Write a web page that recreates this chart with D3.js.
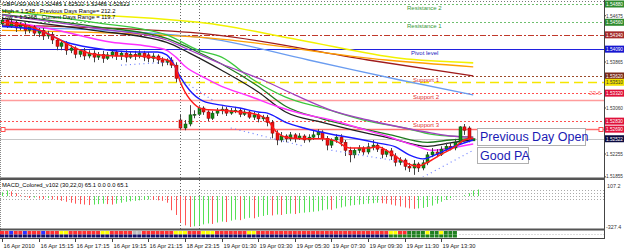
<!DOCTYPE html>
<html><head><meta charset="utf-8">
<script src="https://cdn.jsdelivr.net/npm/d3@7"></script>
<style>
body{margin:0;background:#fff;overflow:hidden}
svg{display:block}
text{font-family:"Liberation Sans",Arial,sans-serif}
</style></head><body>
<svg id="c" width="625" height="251"></svg>
<script>
// ---------------- DATA ----------------
const timeLabels=["16 Apr 2010","16 Apr 15:15","16 Apr 17:15","16 Apr 19:15","16 Apr 21:15","18 Apr 23:15","19 Apr 01:30","19 Apr 03:30","19 Apr 05:30","19 Apr 07:30","19 Apr 09:30","19 Apr 11:30","19 Apr 13:30"];
const labelBars=[0,8,16,24,32,40,48,56,64,72,80,88,96];
const separatorBars=[39,43];

const opens=[1.5453,1.5460,1.5449,1.5456,1.5446,1.5451,1.5442,1.5448,1.5437,1.5442,1.5432,1.5435,1.5425,1.5414,1.5420,1.5407,1.5411,1.5400,1.5406,1.5397,1.5402,1.5395,1.5400,1.5393,1.5399,1.5404,1.5397,1.5402,1.5395,1.5400,1.5397,1.5402,1.5399,1.5393,1.5397,1.5390,1.5386,1.5390,1.5381,1.5285,1.5271,1.5278,1.5294,1.5295,1.5306,1.5299,1.5288,1.5297,1.5301,1.5304,1.5297,1.5301,1.5302,1.5295,1.5299,1.5290,1.5294,1.5287,1.5290,1.5281,1.5262,1.5250,1.5257,1.5252,1.5259,1.5253,1.5257,1.5250,1.5255,1.5259,1.5264,1.5253,1.5241,1.5250,1.5255,1.5246,1.5232,1.5224,1.5232,1.5236,1.5229,1.5238,1.5241,1.5234,1.5225,1.5231,1.5222,1.5211,1.5215,1.5204,1.5201,1.5208,1.5201,1.5210,1.5224,1.5229,1.5225,1.5234,1.5239,1.5236,1.5246,1.5273,1.5271,1.52485];
const closes=[1.5460,1.5449,1.5456,1.5446,1.5451,1.5442,1.5448,1.5437,1.5442,1.5432,1.5435,1.5425,1.5414,1.5420,1.5407,1.5411,1.5400,1.5406,1.5397,1.5402,1.5395,1.5400,1.5393,1.5399,1.5404,1.5397,1.5402,1.5395,1.5400,1.5397,1.5402,1.5395,1.5393,1.5397,1.5390,1.5386,1.5390,1.5381,1.5358,1.5271,1.5278,1.5294,1.5295,1.5306,1.5299,1.5288,1.5297,1.5301,1.5304,1.5297,1.5301,1.5302,1.5295,1.5299,1.5290,1.5294,1.5287,1.5290,1.5281,1.5262,1.5250,1.5257,1.5252,1.5259,1.5253,1.5257,1.5250,1.5255,1.5259,1.5264,1.5253,1.5241,1.5250,1.5255,1.5246,1.5232,1.5224,1.5232,1.5236,1.5229,1.5238,1.5241,1.5234,1.5225,1.5231,1.5222,1.5211,1.5215,1.5204,1.5201,1.5208,1.5201,1.5210,1.5224,1.5229,1.5225,1.5234,1.5239,1.5236,1.5246,1.5273,1.5267,1.5252,1.52522];
const highs=[1.5465,1.5463,1.5460,1.5460,1.5456,1.5455,1.5451,1.5451,1.5446,1.5446,1.5441,1.5439,1.5428,1.5425,1.5423,1.5416,1.5414,1.5409,1.5411,1.5407,1.5407,1.5404,1.5406,1.5404,1.5409,1.5407,1.5406,1.5407,1.5404,1.5406,1.5407,1.5406,1.5404,1.5402,1.5400,1.5395,1.5393,1.5395,1.5386,1.5294,1.5285,1.5311,1.5302,1.5309,1.5309,1.5302,1.5301,1.5306,1.5309,1.5308,1.5306,1.5308,1.5306,1.5304,1.5302,1.5299,1.5297,1.5294,1.5294,1.5285,1.5267,1.5264,1.5260,1.5264,1.5262,1.5262,1.5260,1.5260,1.5266,1.5269,1.5267,1.5257,1.5253,1.5260,1.5260,1.5250,1.5238,1.5236,1.5241,1.5239,1.5245,1.5250,1.5245,1.5238,1.5234,1.5236,1.5227,1.5220,1.5218,1.5210,1.5215,1.5211,1.5215,1.5229,1.5236,1.5234,1.5239,1.5245,1.5245,1.5252,1.5274,1.5278,1.5274,1.52522];
const lows=[1.5448,1.5446,1.5446,1.5439,1.5442,1.5435,1.5437,1.5432,1.5430,1.5425,1.5427,1.5418,1.5407,1.5407,1.5399,1.5402,1.5393,1.5395,1.5390,1.5393,1.5386,1.5390,1.5385,1.5390,1.5393,1.5390,1.5390,1.5386,1.5392,1.5390,1.5393,1.5388,1.5386,1.5386,1.5383,1.5379,1.5381,1.5376,1.5351,1.5267,1.5267,1.5274,1.5288,1.5292,1.5294,1.5283,1.5285,1.5292,1.5295,1.5292,1.5294,1.5297,1.5290,1.5292,1.5287,1.5285,1.5281,1.5283,1.5274,1.5253,1.5241,1.5246,1.5246,1.5248,1.5246,1.5250,1.5245,1.5246,1.5250,1.5253,1.5248,1.5232,1.5236,1.5245,1.5239,1.5222,1.5211,1.5218,1.5227,1.5224,1.5225,1.5232,1.5229,1.5218,1.5220,1.5215,1.5204,1.5206,1.5197,1.5194,1.5189,1.5194,1.5197,1.5206,1.5220,1.5220,1.5222,1.5231,1.5232,1.5232,1.5243,1.5259,1.5246,1.52485];

// moving averages / envelopes: [bar, price] readings
const maRed=[[0,1.5456],[6,1.5449],[12,1.5428],[16,1.5411],[20,1.5400],[25,1.5397],[30,1.5397],[34,1.5393],[36,1.5390],[37,1.5386],[38,1.5376],[39,1.5351],[40,1.5334],[41,1.5322],[42,1.5313],[44,1.5304],[48,1.5302],[52,1.5299],[56,1.5294],[58,1.5285],[60,1.5264],[62,1.5255],[66,1.5252],[70,1.5252],[73,1.5248],[76,1.5236],[80,1.5236],[82,1.5238],[85,1.5227],[88,1.5211],[91,1.5204],[93,1.5211],[96,1.5225],[99,1.5238],[101,1.5250],[103,1.5253]];
const maBlue=[[0,1.5449],[8,1.5442],[14,1.5421],[20,1.5411],[30,1.5404],[34,1.5404],[36,1.5399],[37,1.5390],[39,1.5360],[41,1.5337],[44,1.5318],[48,1.5311],[52,1.5306],[56,1.5299],[58,1.5297],[62,1.5281],[66,1.5271],[72,1.5260],[77,1.5253],[82,1.5245],[86,1.5238],[89,1.5224],[92,1.5217],[95,1.5225],[98,1.5236],[103,1.5250]];
const maPink=[[0,1.5460],[12,1.5442],[24,1.5421],[32,1.5414],[36,1.5407],[38,1.5395],[40,1.5379],[44,1.5360],[48,1.5344],[54,1.5327],[60,1.5309],[66,1.5295],[72,1.5285],[78,1.5271],[84,1.5257],[90,1.5241],[94,1.5232],[98,1.5236],[103,1.5243]];
const maPurple=[[0,1.5469],[20,1.5446],[36,1.5425],[40,1.5411],[48,1.5383],[57,1.5355],[64,1.5329],[72,1.5302],[80,1.5285],[88,1.5271],[94,1.5262],[98,1.5257],[103,1.5255]];
const maBlack=[[0,1.5463],[20,1.5442],[36,1.5421],[41,1.5402],[48,1.5372],[56,1.5334],[62,1.5299],[70,1.5281],[77,1.5267],[85,1.5253],[93,1.5239],[98,1.5245],[103,1.5250]];
const maDarkGreen=[[0,1.5470],[20,1.5449],[36,1.5428],[41,1.5411],[48,1.5383],[56,1.5344],[62,1.5309],[70,1.5287],[77,1.5273],[85,1.5259],[93,1.5246],[98,1.5250],[103,1.5253]];
const maGreen=[[0,1.5477],[20,1.5456],[36,1.5434],[43,1.5407],[48,1.5395],[55,1.5355],[62,1.5325],[70,1.5306],[80,1.5283],[88,1.5271],[94,1.5260],[103,1.5255]];
const maYellow=[[0,1.5474],[43,1.5456],[65,1.5425],[87,1.5393],[103,1.5385]];
const maOrange=[[0,1.5442],[43,1.5430],[84,1.5390],[103,1.5378]];
const maDarkRed=[[0,1.5451],[43,1.5437],[80,1.5390],[103,1.5362]];
const maLightBlue=[[0,1.5448],[43,1.5430],[67,1.5390],[87,1.5355],[103,1.5329]];
const sarSegments=[[[26,1.5381],[36,1.5386]],[[40,1.5351],[46,1.5320]],[[50,1.5271],[66,1.5239]],[[72,1.5232],[88,1.5211]],[[92,1.5185],[103,1.5232]]];

// horizontal levels
const levelPrices=[1.5488,1.5456,1.5434,1.5409,1.5362,1.5351,1.5332,1.5320,1.5283,1.5269];
const levelNames=["Resistance 2","Resistance 1","","Pivot level","Support 1","","Support 2","","Support 3",""];
const fibText="23.6";
const axisPrices=[1.54675,1.53865,1.53060,1.52255,1.51855];

// MACD histogram
const macdVals=[40,60,50,30,10,-10,-20,-15,-25,-30,-20,-35,-40,-50,-60,-70,-80,-85,-90,-95,-90,-85,-80,-85,-90,-80,-70,-60,-55,-50,-45,-40,-35,-40,-45,-50,-70,-150,-200,-280,-310,-327,-320,-310,-300,-290,-295,-280,-270,-275,-260,-250,-255,-240,-230,-235,-220,-210,-200,-205,-195,-200,-190,-185,-190,-180,-175,-170,-165,-160,-150,-140,-145,-130,-120,-110,-100,-95,-90,-85,-80,-75,-70,-75,-80,-90,-100,-110,-120,-130,-135,-130,-125,-115,-100,-80,-60,-40,-20,-5,0,10,30,60,70];
const macdMax=107.2, macdMin=-327.4;
const macdLabel="MACD_Colored_v102 (30,22,0) 65.1 0.0 0.0 65.1";

// header texts
const header=["GBPUSD,M15  1.52485 1.52522 1.52485 1.52522","High = 1.548 , Previous Days Range= 212.2","Low = 1.5268 , Current Days Range = 119.7"];
const notes=["Previous Day Open","Good PA"];

// bottom strip codes (top row / bottom row)
const stripTop="rrbrrbrrrbrrryyrrrrrrryyrrrrrkkrrrrrrryyyrrryyyrrrrrrryyrrrrrrrrrrrrrrrrrrrrrrrrrrrrryyrrggggyggyggg";
const stripBot="nnnnnnnnnnnnnnnnnnnnnnnnnnnnnnnnnnnnnnnnnnnnnnnnnnnnnnnnnnnnnnnnnnnnnnnnnnnnnnnnnnnnnggggggggggggggg";

// ---------------- DRAW ----------------
const svg=d3.select("#c");
const AX=604, MAIN_B=177;
const x=d3.scaleLinear().domain([0,103]).range([2,2+103*4.575]);
const y=d3.scaleLinear().domain([1.518525,1.5495]).range([MAIN_B,0]);
const ym=d3.scaleLinear().domain([macdMin,macdMax]).range([227,186]);

svg.append("rect").attr("width",625).attr("height",251).attr("fill","#fff");
svg.append("defs").append("clipPath").attr("id","mc").append("rect").attr("x",0).attr("y",0).attr("width",AX).attr("height",MAIN_B);
const g=svg.append("g").attr("clip-path","url(#mc)");

g.append("line").attr("x1",0).attr("x2",AX).attr("y1",1.5).attr("y2",1.5).attr("stroke","#777").attr("stroke-dasharray","1,2");

const lvStyle=[
 {c:"#6fbf6f",d:"2,2",w:1},{c:"#6fbf6f",d:"2,2",w:1},{c:"#c0392b",d:"6,2,2,2",w:1},{c:"#2020e0",d:null,w:1},
 {c:"#9b4a2a",d:"2,2",w:1},{c:"#f5e600",d:"9,5",w:1.6},{c:"#ff5050",d:"2,2",w:1},{c:"#ff9c9c",d:null,w:1.6},
 {c:"#ff5050",d:"2,2",w:1},{c:"#ff7070",d:null,w:1.4}];
levelPrices.forEach((p,i)=>{
  const s=lvStyle[i];
  g.append("line").attr("x1",0).attr("x2",AX).attr("y1",Math.round(y(p))+0.5).attr("y2",Math.round(y(p))+0.5)
   .attr("stroke",s.c).attr("stroke-width",s.w).attr("stroke-dasharray",s.d);
});
const bid=closes[closes.length-1];
g.append("line").attr("x1",0).attr("x2",AX).attr("y1",Math.round(y(bid))+0.5).attr("y2",Math.round(y(bid))+0.5).attr("stroke","#c8c8c8");
[3,601].forEach(px=>g.append("rect").attr("x",px-2).attr("y",Math.round(y(levelPrices[9]))-1.5).attr("width",4).attr("height",4).attr("fill","#fff").attr("stroke","#ff5050"));

separatorBars.forEach(b=>svg.append("line").attr("x1",Math.round(x(b))+0.5).attr("x2",Math.round(x(b))+0.5).attr("y1",0).attr("y2",229).attr("stroke","#666").attr("stroke-dasharray","1,2"));

const line=d3.line().x(d=>x(d[0])).y(d=>y(d[1])).curve(d3.curveMonotoneX);
const drawMA=(data,c,w)=>g.append("path").attr("d",line(data)).attr("fill","none").attr("stroke",c).attr("stroke-width",w);
drawMA(maLightBlue,"#6a9cf0",1.3);
drawMA(maDarkRed,"#a01c1c",1.3);
drawMA(maOrange,"#ffa000",1.3);
drawMA(maYellow,"#f2f200",1.6);
drawMA(maGreen,"#3cc83c",1.3);
drawMA(maDarkGreen,"#1f7a1f",1.3);
drawMA(maBlack,"#202020",1.3);
drawMA(maPurple,"#a040c0",1.3);
drawMA(maPink,"#ff30ff",1.4);

opens.forEach((o,i)=>{
  const c=closes[i], cx=Math.round(x(i))+0.5;
  const up=c>=o;
  g.append("line").attr("x1",cx).attr("x2",cx).attr("y1",y(highs[i])).attr("y2",y(lows[i])).attr("stroke","#444");
  const top=Math.min(y(o),y(c)), h=Math.max(1,Math.abs(y(o)-y(c)));
  g.append("rect").attr("x",cx-1.5).attr("y",top).attr("width",3).attr("height",h)
   .attr("fill",up?"#118811":"#ee1111").attr("stroke",up?"#0a4a0a":"#8a0000").attr("stroke-width",0.5);
});
drawMA(maBlue,"#1a1aff",1.4);
drawMA(maRed,"#ff1a1a",1.5);
sarSegments.forEach(s=>g.append("path").attr("d",line(s)).attr("fill","none").attr("stroke","#6a7cff").attr("stroke-width",1.2).attr("stroke-dasharray","1,3.5"));

const lvTextCol=["#3a9a3a","#3a9a3a","","#2020c0","#e03030","","#e03030","","#e03030",""];
levelNames.forEach((t,i)=>{ if(!t) return;
  svg.append("text").attr("x",i<3?407:(i==3?411:413)).attr("y",y(levelPrices[i])+6).attr("font-size",6).attr("fill",lvTextCol[i]).text(t);});
svg.append("text").attr("x",601).attr("y",y(levelPrices[6])+2).attr("text-anchor","end").attr("font-size",6).attr("fill","#ff6060").text(fibText);

[[477,128,108,17],[477,147,51,16]].forEach((r,i)=>{
  svg.append("rect").attr("x",r[0]+0.5).attr("y",r[1]+0.5).attr("width",r[2]).attr("height",r[3]).attr("fill","#fff").attr("stroke","#b0b0b0");
  svg.append("text").attr("x",r[0]+3).attr("y",r[1]+13).attr("font-size",12.5).attr("fill","#1a1ab4").text(notes[i]);
});

header.forEach((t,i)=>svg.append("text").attr("x",2).attr("y",6+i*6.5).attr("font-size",5.8).attr("fill","#000").text(t));

svg.append("line").attr("x1",AX+0.5).attr("x2",AX+0.5).attr("y1",0).attr("y2",239).attr("stroke","#444");
svg.append("line").attr("x1",0.5).attr("x2",0.5).attr("y1",0).attr("y2",239).attr("stroke","#888").attr("stroke-dasharray","1,1");
svg.append("rect").attr("x",0).attr("y",177.5).attr("width",AX+1).attr("height",2.5).attr("fill","#555");
svg.append("rect").attr("x",0).attr("y",228.5).attr("width",AX+1).attr("height",2).attr("fill","#555");
svg.append("line").attr("x1",0).attr("x2",AX).attr("y1",238.5).attr("y2",238.5).attr("stroke","#444");

const axText=(tx,ty,t,col)=>svg.append("text").attr("x",tx).attr("y",ty).attr("font-size",5.4)
  .attr("textLength",17).attr("lengthAdjust","spacingAndGlyphs").attr("fill",col).text(t);
axisPrices.forEach(p=>{
  const py=y(p);
  svg.append("line").attr("x1",AX).attr("x2",AX+2).attr("y1",py).attr("y2",py).attr("stroke","#444");
  axText(606,Math.min(py+2,178),p.toFixed(5),"#333");
});
const boxCol=["#2e8b2e","#2e8b2e","#a52a2a","#1515d0","#7a2a1a","#f0e000","#e0103a","","#e0103a","#e0103a"];
levelPrices.forEach((p,i)=>{ if(!boxCol[i]) return;
  const py=y(p);
  svg.append("rect").attr("x",605).attr("y",py-3.5).attr("width",19).attr("height",7).attr("fill",boxCol[i]);
  axText(606,py+2,p.toFixed(5),i==5?"#333":"#fff");
});
{const py=y(bid);
 svg.append("rect").attr("x",605).attr("y",py-3.5).attr("width",19).attr("height",7).attr("fill","#0a0a40");
 axText(606,py+2,bid.toFixed(5),"#fff");}

[60,30,0,-30].forEach(v=>svg.append("line").attr("x1",0).attr("x2",AX).attr("y1",Math.round(ym(v))+0.5).attr("y2",Math.round(ym(v))+0.5).attr("stroke","#aaa").attr("stroke-dasharray","1,2"));
macdVals.forEach((v,i)=>{
  const up=i==0||v>=macdVals[i-1];
  const cx=Math.round(x(i))+0.5;
  svg.append("line").attr("x1",cx).attr("x2",cx).attr("y1",ym(0)).attr("y2",ym(v)).attr("stroke",up?"#55e055":"#ff5555").attr("stroke-width",1);
});
svg.append("text").attr("x",2).attr("y",187).attr("font-size",5.8).attr("fill","#000").text(macdLabel);
svg.append("text").attr("x",607).attr("y",ym(macdMax)+2).attr("font-size",5.4).attr("fill","#333").text(macdMax.toFixed(1));
svg.append("text").attr("x",606).attr("y",ym(macdMin)+2).attr("font-size",5.4).attr("fill","#333").text(macdMin.toFixed(1));

const sc={r:"#ff3030",y:"#ffff00",b:"#3030ff",n:"#10106a",g:"#208020",k:"#bbbbbb"};
for(let i=0;i<stripTop.length;i++){
  const cx=x(i);
  svg.append("rect").attr("x",cx-2).attr("y",231).attr("width",4).attr("height",3.5).attr("fill",sc[stripTop[i]]);
  svg.append("rect").attr("x",cx-2).attr("y",234.5).attr("width",4).attr("height",3).attr("fill",sc[stripBot[i]]);
}
svg.append("line").attr("x1",x(stripTop.length)).attr("x2",AX).attr("y1",234.5).attr("y2",234.5).attr("stroke","#bbb").attr("stroke-dasharray","1,2");

timeLabels.forEach((t,i)=>{
  const tx=Math.round(x(labelBars[i]))+0.5;
  svg.append("line").attr("x1",tx).attr("x2",tx).attr("y1",239).attr("y2",242).attr("stroke","#444");
  svg.append("text").attr("x",tx+1).attr("y",248).attr("font-size",5.8).attr("fill","#222").text(t);
});
</script></body></html>
